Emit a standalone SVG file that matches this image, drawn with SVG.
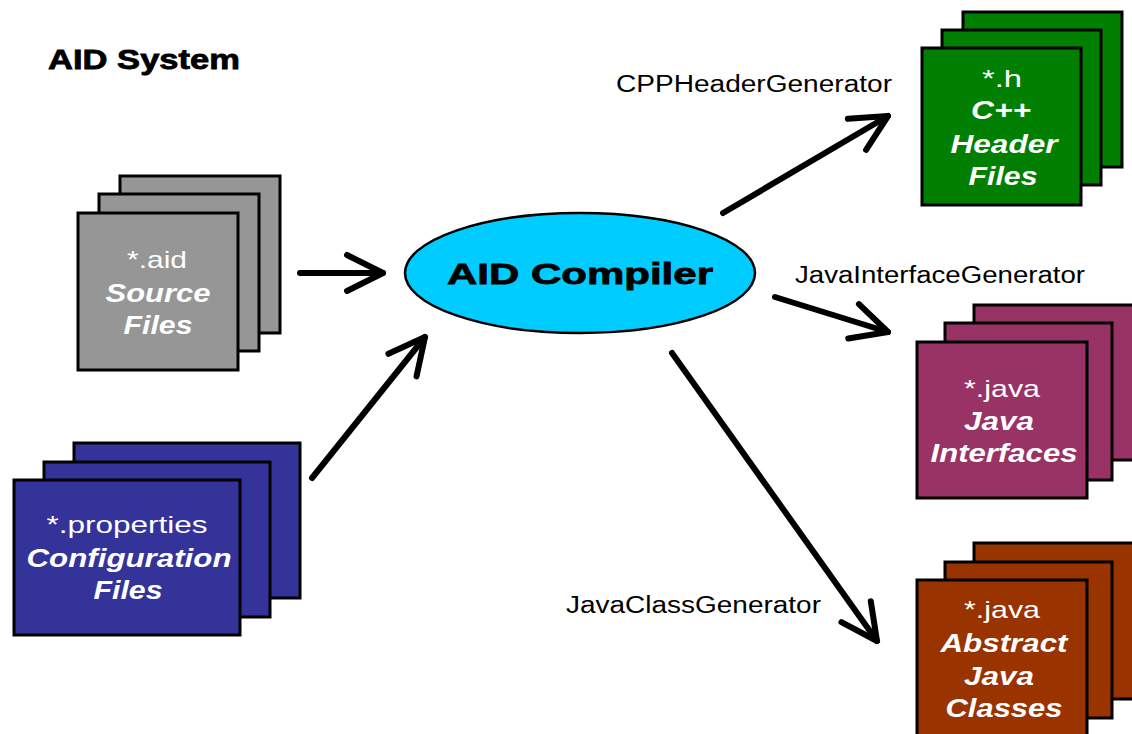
<svg xmlns="http://www.w3.org/2000/svg" width="1132" height="734" viewBox="0 0 1132 734">
  <style>
    .sheet { stroke: #000; stroke-width: 3; }
    .gray { fill: #969696; }
    .blue { fill: #333399; }
    .green { fill: #007F00; }
    .purple { fill: #993366; }
    .brown { fill: #993300; }
    .ext { font-family: "Liberation Sans", Arial, sans-serif; font-size: 24px; fill: #fff; text-anchor: middle; }
    .desc { font-family: "Liberation Sans", Arial, sans-serif; font-size: 25px; font-weight: bold; font-style: italic; fill: #fff; text-anchor: middle; }
    .gen { font-family: "Liberation Sans", Arial, sans-serif; font-size: 23px; fill: #000; }
    .title { font-family: "Liberation Sans", Arial, sans-serif; font-size: 28px; font-weight: bold; fill: #000; stroke: #000; stroke-width: 0.8; }
    .conn { fill: none; stroke: #000; stroke-width: 6; stroke-linecap: round; stroke-linejoin: round; }
  </style>
  <defs>
    <marker id="chevron" markerUnits="userSpaceOnUse" viewBox="-50 -30 60 60" markerWidth="60" markerHeight="60" refX="0" refY="0" orient="auto" overflow="visible">
      <path d="M -36 -18 L 0 0 L -36 18" fill="none" stroke="#000" stroke-width="6" stroke-linecap="round" stroke-linejoin="round"/>
    </marker>
  </defs>

  <rect width="1132" height="734" fill="#fff"/>

  <text class="title" x="48" y="69" textLength="192" lengthAdjust="spacingAndGlyphs">AID System</text>

  <!-- source files -->
  <g id="source-files">
    <rect class="sheet gray" x="120" y="176" width="160" height="157"/>
    <rect class="sheet gray" x="99" y="194" width="160" height="157"/>
    <rect class="sheet gray" x="78" y="213" width="160" height="157"/>
    <text class="ext" x="157" y="268" textLength="60" lengthAdjust="spacingAndGlyphs">*.aid</text>
    <text class="desc" x="158" y="302" textLength="105" lengthAdjust="spacingAndGlyphs">Source</text>
    <text class="desc" x="158" y="334" textLength="69" lengthAdjust="spacingAndGlyphs">Files</text>
  </g>

  <!-- configuration files -->
  <g id="configuration-files">
    <rect class="sheet blue" x="74" y="443" width="226" height="155"/>
    <rect class="sheet blue" x="44" y="462" width="226" height="155"/>
    <rect class="sheet blue" x="14" y="480" width="226" height="155"/>
    <text class="ext" x="127" y="533" textLength="161" lengthAdjust="spacingAndGlyphs">*.properties</text>
    <text class="desc" x="129" y="567" textLength="205" lengthAdjust="spacingAndGlyphs">Configuration</text>
    <text class="desc" x="128" y="599" textLength="69" lengthAdjust="spacingAndGlyphs">Files</text>
  </g>

  <!-- compiler -->
  <g id="aid-compiler">
    <ellipse cx="580" cy="273" rx="175" ry="60" fill="#00CCFF" stroke="#000" stroke-width="2.5"/>
    <text class="title" x="447" y="284" textLength="266" lengthAdjust="spacingAndGlyphs" style="font-size:30px">AID Compiler</text>
  </g>

  <!-- C++ headers -->
  <g id="cpp-headers">
    <rect class="sheet green" x="963" y="12" width="159" height="155"/>
    <rect class="sheet green" x="942" y="30" width="159" height="155"/>
    <rect class="sheet green" x="922" y="48" width="159" height="157"/>
    <text class="ext" x="1002" y="87" textLength="40" lengthAdjust="spacingAndGlyphs">*.h</text>
    <text class="desc" x="1001" y="119" textLength="60" lengthAdjust="spacingAndGlyphs">C++</text>
    <text class="desc" x="1004" y="153" textLength="107" lengthAdjust="spacingAndGlyphs">Header</text>
    <text class="desc" x="1003" y="185" textLength="69" lengthAdjust="spacingAndGlyphs">Files</text>
  </g>

  <!-- Java interfaces -->
  <g id="java-interfaces">
    <rect class="sheet purple" x="974" y="305" width="172" height="155"/>
    <rect class="sheet purple" x="945" y="323" width="167" height="157"/>
    <rect class="sheet purple" x="917" y="342" width="170" height="156"/>
    <text class="ext" x="1002" y="397" textLength="76" lengthAdjust="spacingAndGlyphs">*.java</text>
    <text class="desc" x="999" y="430" textLength="70" lengthAdjust="spacingAndGlyphs">Java</text>
    <text class="desc" x="1004" y="462" textLength="147" lengthAdjust="spacingAndGlyphs">Interfaces</text>
  </g>

  <!-- abstract Java classes -->
  <g id="java-classes">
    <rect class="sheet brown" x="974" y="543" width="172" height="156"/>
    <rect class="sheet brown" x="945" y="562" width="167" height="156"/>
    <rect class="sheet brown" x="917" y="580" width="170" height="160"/>
    <text class="ext" x="1002" y="618" textLength="76" lengthAdjust="spacingAndGlyphs">*.java</text>
    <text class="desc" x="1004" y="652" textLength="127" lengthAdjust="spacingAndGlyphs">Abstract</text>
    <text class="desc" x="999" y="685" textLength="70" lengthAdjust="spacingAndGlyphs">Java</text>
    <text class="desc" x="1004" y="717" textLength="117" lengthAdjust="spacingAndGlyphs">Classes</text>
  </g>

  <!-- connectors -->
  <g id="connectors">
    <path class="conn" d="M 300 273 L 383 273" marker-end="url(#chevron)"/>
    <path class="conn" d="M 312 478 L 425 337" marker-end="url(#chevron)"/>
    <path class="conn" d="M 723 213 L 888 116" marker-end="url(#chevron)"/>
    <path class="conn" d="M 775 297 L 888 332" marker-end="url(#chevron)"/>
    <path class="conn" d="M 672 353 L 877 641" marker-end="url(#chevron)"/>
    <text class="gen" x="616" y="92" textLength="276" lengthAdjust="spacingAndGlyphs">CPPHeaderGenerator</text>
    <text class="gen" x="795" y="283" textLength="290" lengthAdjust="spacingAndGlyphs">JavaInterfaceGenerator</text>
    <text class="gen" x="566" y="613" textLength="255" lengthAdjust="spacingAndGlyphs">JavaClassGenerator</text>
  </g>
</svg>
